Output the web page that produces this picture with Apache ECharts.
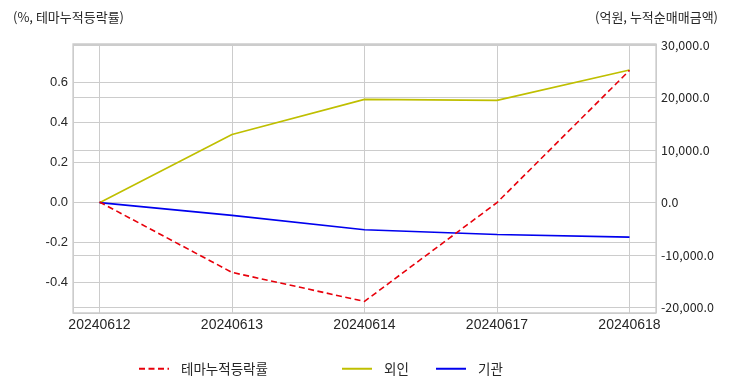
<!DOCTYPE html>
<html><head><meta charset="utf-8">
<script src="https://cdn.jsdelivr.net/npm/echarts@6/dist/echarts.min.js"></script>
<style>html,body{margin:0;padding:0;background:#fff}#c{width:732px;height:392px}</style>
</head><body><div id="c"></div>
<script>
const dates = ['20240612','20240613','20240614','20240617','20240618'];
const themeRate = [0.0, -0.352, -0.497, -0.003, 0.658];
const foreignNet = [0, 12980, 19660, 19470, 25250];
const instNet = [0, -2420, -5150, -6050, -6560];
const leftTitle = '(%, 테마누적등락률)';
const rightTitle = '(억원, 누적순매매금액)';
const seriesNames = ['테마누적등락률','외인','기관'];

const FONT = '"Noto Sans CJK KR", "Liberation Sans", sans-serif';
const LAT = '"Liberation Sans", Arial, sans-serif';
const txt = '#262626';
const gridC = '#cccccc';

const chart = echarts.init(document.getElementById('c'));
const pts = arr => arr.map((v,i)=>[i,v]);
const legendText = {fontSize:13.5,color:txt,fontFamily:FONT,padding:[0,0,0,7]};
const legendCommon = {top:362,padding:0,itemWidth:30,itemHeight:14,itemStyle:{opacity:0},lineStyle:{width:2},textStyle:legendText};
chart.setOption({
  animation:false,
  textStyle:{fontFamily:FONT},
  title:[
    {text:leftTitle,left:8,top:6,textStyle:{fontSize:13,fontWeight:'normal',color:txt,fontFamily:FONT}},
    {text:rightTitle,right:9,top:6,textStyle:{fontSize:13,fontWeight:'normal',color:txt,fontFamily:FONT}}
  ],
  grid:{left:73,right:76,top:44,bottom:79,show:true,borderColor:gridC,borderWidth:1.3,backgroundColor:'transparent'},
  xAxis:{type:'value',min:-0.2,max:4.2,minInterval:1,maxInterval:1,splitNumber:4,
    axisLine:{show:false},axisTick:{show:false},
    splitLine:{show:true,lineStyle:{color:gridC,width:1}},
    axisLabel:{showMinLabel:false,showMaxLabel:false,margin:5,color:txt,fontSize:14,fontFamily:LAT,
      formatter:v=>{const i=Math.round(v);return Math.abs(v-i)<1e-6?(dates[i]||''):'';}}},
  yAxis:[
    {type:'value',position:'left',min:-0.555,max:0.79,minInterval:0.2,maxInterval:0.2,splitNumber:6,
     axisLine:{show:false},axisTick:{show:false},
     splitLine:{show:true,lineStyle:{color:gridC,width:1}},
     axisLabel:{showMinLabel:false,showMaxLabel:false,margin:5,color:txt,fontSize:13,fontFamily:LAT,
       formatter:v=>v.toFixed(1)}},
    {type:'value',position:'right',min:-21000,max:30200,minInterval:10000,maxInterval:10000,splitNumber:5,
     axisLine:{show:false},axisTick:{show:false},
     splitLine:{show:true,lineStyle:{color:gridC,width:1}},
     axisLabel:{showMinLabel:false,showMaxLabel:false,margin:5,color:txt,fontSize:12.5,fontFamily:FONT,
       formatter:v=>v.toLocaleString('en-US',{minimumFractionDigits:1,maximumFractionDigits:1})}}
  ],
  legend:[
    Object.assign({data:[seriesNames[0]],left:138},legendCommon),
    Object.assign({data:[seriesNames[1]],left:341},legendCommon),
    Object.assign({data:[seriesNames[2]],left:435},legendCommon)
  ],
  series:[
    {name:seriesNames[0],type:'line',yAxisIndex:0,data:pts(themeRate),symbol:'none',
     lineStyle:{color:'#e8000b',width:1.6,type:[6,3.5]},itemStyle:{color:'#e8000b'},z:3},
    {name:seriesNames[1],type:'line',yAxisIndex:1,data:pts(foreignNet),symbol:'none',
     lineStyle:{color:'#bfbf00',width:1.6},itemStyle:{color:'#bfbf00'},z:2},
    {name:seriesNames[2],type:'line',yAxisIndex:1,data:pts(instNet),symbol:'none',
     lineStyle:{color:'#0000ee',width:1.6},itemStyle:{color:'#0000ee'},z:2}
  ]
});
</script></body></html>
